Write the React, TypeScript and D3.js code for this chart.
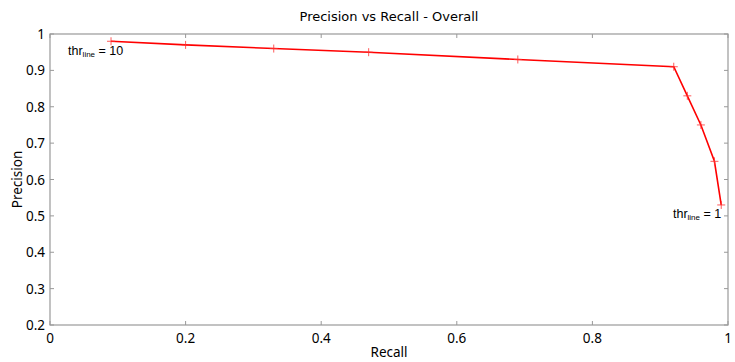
import React from "react";
import * as d3 from "d3";

const recall = [0.09, 0.2, 0.33, 0.47, 0.69, 0.92, 0.94, 0.96, 0.98, 0.99];
const precision = [0.98, 0.97, 0.96, 0.95, 0.93, 0.91, 0.83, 0.75, 0.65, 0.53];
const xTicks = [0, 0.2, 0.4, 0.6, 0.8, 1];
const yTicks = [0.2, 0.3, 0.4, 0.5, 0.6, 0.7, 0.8, 0.9, 1];

const W = 735, H = 362;
const L = 50, R = 728, T = 34, B = 325;
const font = "Noto Sans, DejaVu Sans, sans-serif";
const titleFont = "DejaVu Sans, Verdana, sans-serif";
const labelFont = "Liberation Sans, Arial, sans-serif";
const axisColor = "#999";

export default function App() {
  const x = d3.scaleLinear().domain([0, 1]).range([L, R]);
  const y = d3.scaleLinear().domain([0.2, 1]).range([B, T]);
  const pts = recall.map((r, i) => [r, precision[i]] as [number, number]);
  const line = d3.line<[number, number]>().x(d => x(d[0])).y(d => y(d[1]));
  const first = pts[0];
  const last = pts[pts.length - 1];
  return (
    <svg width={W} height={H} style={{ position: "absolute", left: 0, top: 0, background: "#fff" }} fontFamily={font}>
      <rect x={0} y={0} width={W} height={H} fill="#fff" />
      <text x={(L + R) / 2} y={21} textAnchor="middle" fontSize={13} fill="#000" fontFamily={titleFont}>Precision vs Recall - Overall</text>
      <rect x={L} y={T} width={R - L} height={B - T} fill="none" stroke={axisColor} strokeWidth={1.2} />
      {xTicks.map(t => (
        <g key={"x" + t}>
          <line x1={x(t)} x2={x(t)} y1={B} y2={B - 4} stroke={axisColor} />
          <line x1={x(t)} x2={x(t)} y1={T} y2={T + 4} stroke={axisColor} />
          <text x={x(t)} y={B + 18} textAnchor="middle" fontSize={13.5} fill="#000">{d3.format("")(t)}</text>
        </g>
      ))}
      {yTicks.map(t => (
        <g key={"y" + t}>
          <line x1={L} x2={L + 4} y1={y(t)} y2={y(t)} stroke={axisColor} />
          <line x1={R} x2={R - 4} y1={y(t)} y2={y(t)} stroke={axisColor} />
          <text x={L - 5} y={y(t) + 5} textAnchor="end" fontSize={13.5} fill="#000">{d3.format("")(+t.toFixed(1))}</text>
        </g>
      ))}
      <text x={(L + R) / 2} y={357} textAnchor="middle" fontSize={13.5} fill="#000">Recall</text>
      <text transform={`translate(22,${(T + B) / 2}) rotate(-90)`} textAnchor="middle" fontSize={13.5} fill="#000">Precision</text>
      <path d={line(pts) || ""} fill="none" stroke="#ff0000" strokeWidth={1.6} />
      {pts.map((p, i) => (
        <g key={"m" + i} stroke="#ff3030" strokeWidth={0.8}>
          <line x1={x(p[0]) - 4} x2={x(p[0]) + 4} y1={y(p[1])} y2={y(p[1])} />
          <line x1={x(p[0])} x2={x(p[0])} y1={y(p[1]) - 4} y2={y(p[1]) + 4} />
        </g>
      ))}
      <text x={x(first[0]) - 43} y={y(first[1]) + 14} fontSize={12.5} fill="#000" fontFamily={labelFont}>
        thr<tspan fontSize={8} dy={2}>line</tspan><tspan dy={-2}> = 10</tspan>
      </text>
      <text x={x(last[0])} y={y(last[1]) + 13} textAnchor="end" fontSize={12.5} fill="#000" fontFamily={labelFont}>
        thr<tspan fontSize={8} dy={2}>line</tspan><tspan dy={-2}> = 1</tspan>
      </text>
    </svg>
  );
}
